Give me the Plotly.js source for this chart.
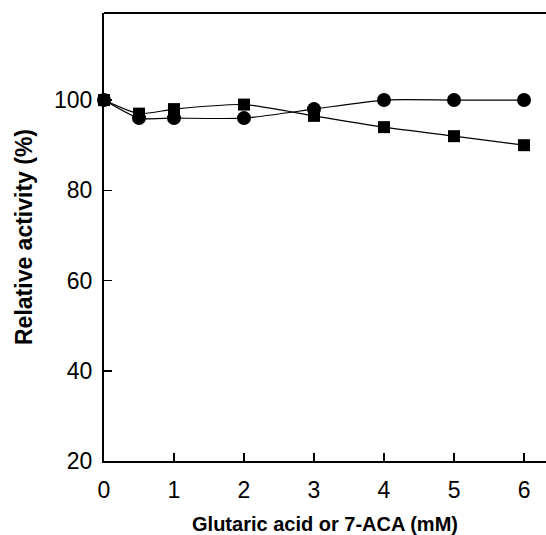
<!DOCTYPE html>
<html><head><meta charset="utf-8">
<script src="https://cdn.plot.ly/plotly-3.0.1.min.js"></script>
<style>html,body{margin:0;padding:0;background:#fff}#c{width:546px;height:535px}</style>
</head><body><div id="c"></div>
<script>
const conc = [0, 0.5, 1, 2, 3, 4, 5, 6];
const circleVals = [100, 96, 96, 96, 98, 100, 100, 100];
const squareVals = [100, 97, 98, 99, 96.5, 94, 92, 90];
const xTicks = [0, 1, 2, 3, 4, 5, 6];
const yTicks = [20, 40, 60, 80, 100];

const traces = [
  {x: conc, y: squareVals, mode: 'lines+markers', line: {color: '#000', width: 1.2, shape: 'spline', smoothing: 0.6},
   marker: {symbol: 'square', size: 12, color: '#000'}, cliponaxis: false},
  {x: conc, y: circleVals, mode: 'lines+markers', line: {color: '#000', width: 1.2, shape: 'spline', smoothing: 0.6},
   marker: {symbol: 'circle', size: 14, color: '#000'}, cliponaxis: false}
];
const font = {family: 'Liberation Sans, Arial, sans-serif', color: '#000'};
const layout = {
  width: 546, height: 535,
  margin: {l: 104, r: 0, t: 13, b: 74},
  paper_bgcolor: '#fff', plot_bgcolor: '#fff',
  showlegend: false,
  font: font,
  xaxis: {range: [0, 6.314], tickvals: xTicks, ticks: 'inside', ticklen: 8, tickwidth: 1.5, tickcolor: '#000',
    showline: true, linecolor: '#000', linewidth: 2, mirror: false, showgrid: false, zeroline: false,
    ticklabelstandoff: 7,
    tickfont: {size: 23, family: font.family, color: '#000'},
    title: {text: '<b>Glutaric acid or 7-ACA (mM)</b>', font: {size: 20, family: font.family, color: '#000'}, standoff: 15}},
  yaxis: {range: [20, 119.3], tickvals: yTicks, ticks: 'inside', ticklen: 8, tickwidth: 1.5, tickcolor: '#000',
    showline: true, linecolor: '#000', linewidth: 2, mirror: false, showgrid: false, zeroline: false,
    ticklabelstandoff: 5,
    tickfont: {size: 23, family: font.family, color: '#000'},
    title: {text: '<b>Relative activity (%)</b>', font: {size: 23, family: font.family, color: '#000'}, standoff: 15}},
  shapes: [{type: 'line', xref: 'paper', yref: 'paper', x0: 0, x1: 1, y0: 1, y1: 1, line: {color: '#000', width: 2}}]
};
Plotly.newPlot('c', traces, layout, {displayModeBar: false, staticPlot: true});
</script></body></html>
